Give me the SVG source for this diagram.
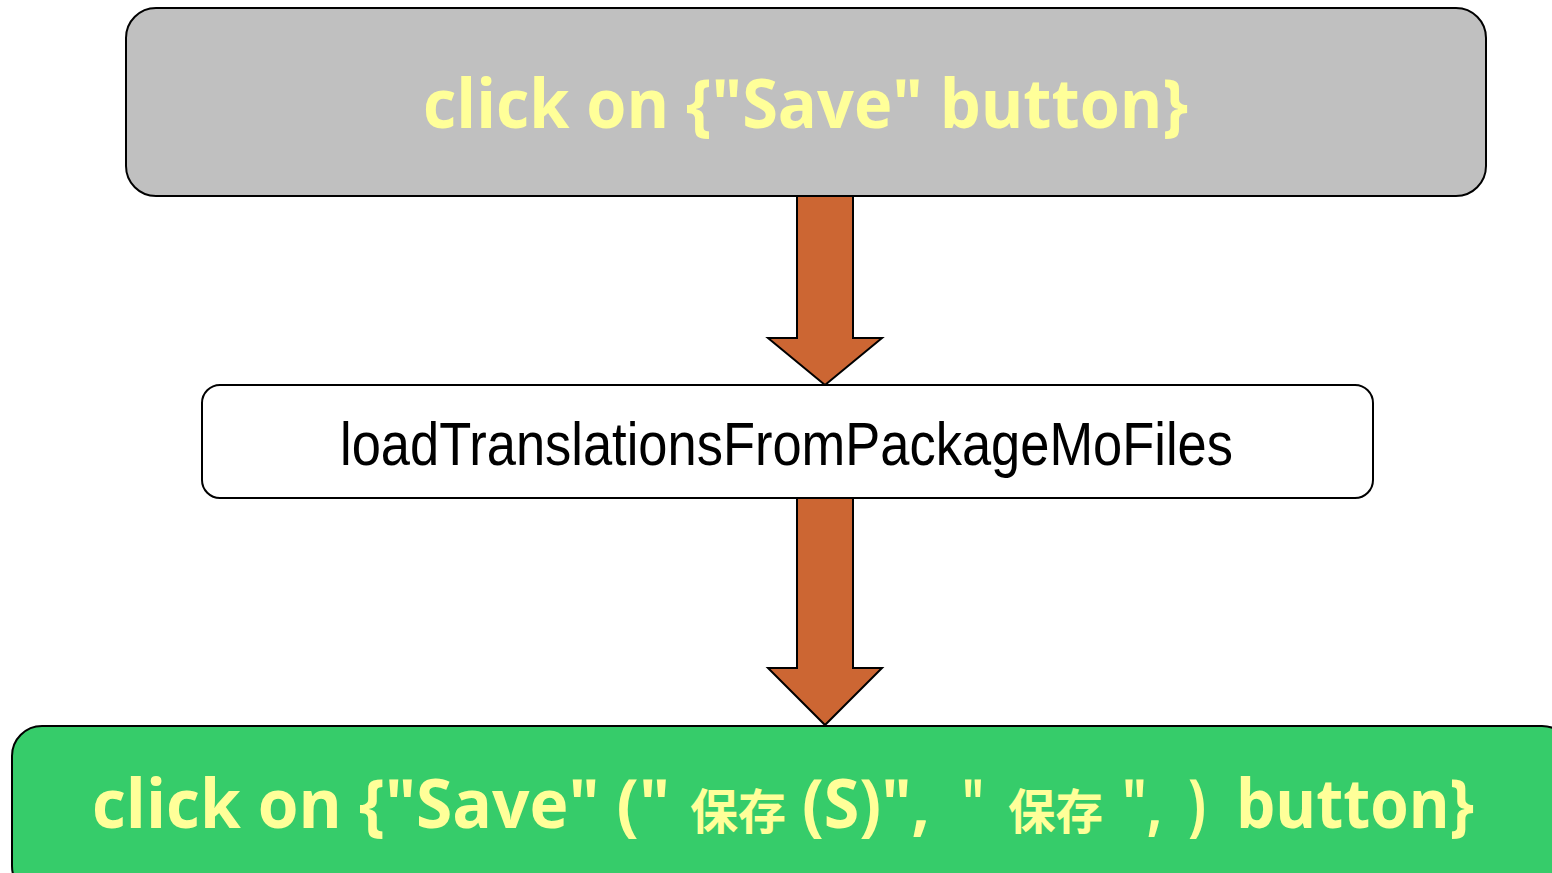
<svg xmlns="http://www.w3.org/2000/svg" width="1552" height="873" viewBox="0 0 1552 873">
<style>
.box{stroke:#000;stroke-width:2}
.arrow{fill:#CC6633;stroke:#000;stroke-width:2;stroke-linejoin:miter}
.hl{font-family:"Open Sans","Noto Sans CJK SC",sans-serif;font-weight:bold;fill:#FFFF99}
.cjk{font-family:"Noto Sans CJK SC",sans-serif;font-weight:bold;fill:#FFFF99}
.mid{font-family:"Liberation Sans",Arial,sans-serif;fill:#000}
</style>
<rect width="1552" height="873" fill="#fff"/>
<g id="connectors">
<polygon class="arrow" points="797,196 853,196 853,338 882,338 825,385 768,338 797,338"/>
<polygon class="arrow" points="797,498 853,498 853,668 882,668 825,725 768,668 797,668"/>
</g>
<g id="node-top">
<rect class="box" x="126" y="8" width="1360" height="188" rx="30" fill="#C0C0C0"/>
<text class="hl" x="423" y="128" font-size="68" textLength="765" lengthAdjust="spacingAndGlyphs">click on {"Save" button}</text>
</g>
<g id="node-mid">
<rect class="box" x="202" y="385" width="1171" height="113" rx="18" fill="#fff"/>
<text class="mid" x="340" y="465" font-size="62" textLength="893" lengthAdjust="spacingAndGlyphs">loadTranslationsFromPackageMoFiles</text>
</g>
<g id="node-bottom">
<rect class="box" x="12" y="726" width="1560" height="170" rx="30" fill="#36CC6A"/>
<text class="hl" x="92" y="828" font-size="68" textLength="578" lengthAdjust="spacingAndGlyphs">click on {"Save" ("</text>
<text class="cjk" x="690" y="829" font-size="48" textLength="96" lengthAdjust="spacingAndGlyphs">保存</text>
<text class="hl" x="802" y="828" font-size="68" textLength="128" lengthAdjust="spacingAndGlyphs">(S)",</text>
<text class="hl" x="962" y="828" font-size="68" textLength="22" lengthAdjust="spacingAndGlyphs">"</text>
<text class="cjk" x="1008" y="829" font-size="48" textLength="95" lengthAdjust="spacingAndGlyphs">保存</text>
<text class="hl" x="1122" y="828" font-size="68" textLength="40" lengthAdjust="spacingAndGlyphs">",</text>
<text class="hl" x="1188" y="828" font-size="68" textLength="18" lengthAdjust="spacingAndGlyphs">)</text>
<text class="hl" x="1236" y="828" font-size="68" textLength="238" lengthAdjust="spacingAndGlyphs">button}</text>
</g>
</svg>
